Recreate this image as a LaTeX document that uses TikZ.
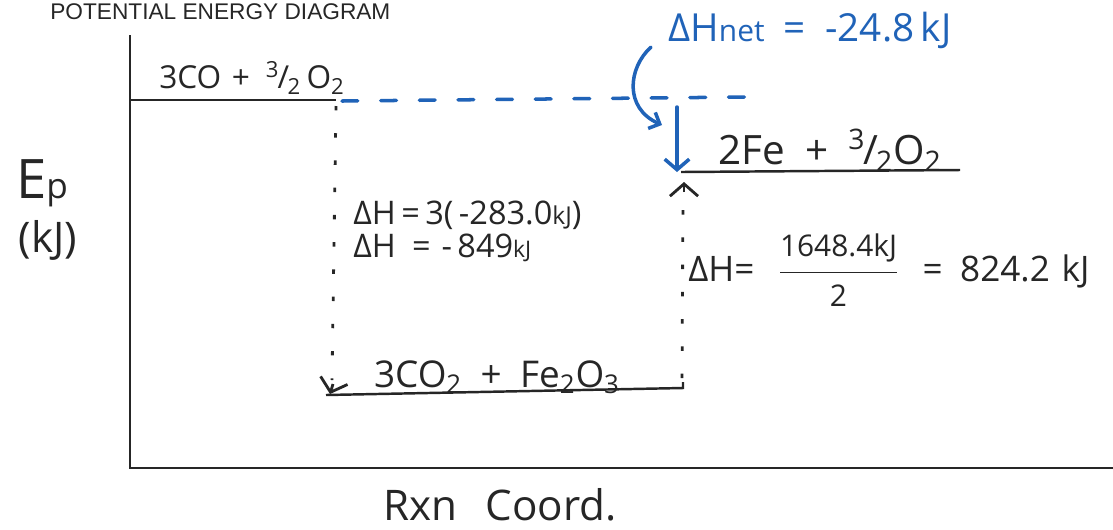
\documentclass[tikz,border=0pt]{standalone}
\usepackage{fontspec}
\setmainfont{Open Sans}
\newfontfamily\titlefont{Liberation Sans}
\usetikzlibrary{arrows.meta}
\definecolor{ink}{HTML}{262626}
\definecolor{bink}{HTML}{2063B8}
\newcommand{\tfrac}{\textsuperscript{3}\kern-0.05em/\kern-0.05em\textsubscript{2}}
\begin{document}
\begin{tikzpicture}[x=0.02cm,y=-0.02cm,
  axis/.style={draw=ink,line width=1.6pt},
  level/.style={draw=ink,line width=1.4pt},
  dotline/.style={draw=ink,line width=1.6pt,dash pattern=on 2.5pt off 13pt},
  bdash/.style={draw=bink,line width=2pt,dash pattern=on 9pt off 13pt,line cap=round},
  barrow/.style={draw=bink,line width=2pt,line cap=round},
  lbl/.style={text=ink,inner sep=0pt},
  blbl/.style={text=bink,inner sep=0pt},
  tip/.style={-{Straight Barb[length=7pt,width=16pt,line width=1.6pt]}}
]
\useasboundingbox (0,0) rectangle (1113,529);
% title
\node[lbl,anchor=base west,font=\titlefont\fontsize{12.9}{14}\selectfont] (title) at (50,19) {POTENTIAL ENERGY DIAGRAM};
% axes
\coordinate (ytop) at (130,35);
\coordinate (O) at (130,468);
\coordinate (xend) at (1113,468);
\draw[axis] (ytop) -- (O) -- (xend);
% levels
\coordinate (l1a) at (130,100);
\coordinate (l1b) at (336,100);
\coordinate (l2a) at (326,395);
\coordinate (l2b) at (683,388);
\coordinate (l2h) at (683,382);
\coordinate (l3a) at (681,172);
\coordinate (l3b) at (960,170);
\draw[level] (l1a) -- (l1b);
\draw[level] (l2a) -- (l2b) -- (l2h);
\draw[level] (l3a) -- (l3b);
% level labels
\node[lbl,font=\fontsize{18}{21}\selectfont] (r1) at (252,78) {3CO\,\,+\,\,\,\tfrac\,O\textsubscript{2}};
\node[lbl,font=\fontsize{23}{26}\selectfont] (r3) at (830,150) {2Fe\,\,\,+\,\,\,\tfrac O\textsubscript{2}};
\node[lbl,font=\fontsize{21}{24}\selectfont] (r2) at (497,377) {3CO\textsubscript{2}\,\,\,+\,\,\,Fe\textsubscript{2}O\textsubscript{3}};
% dotted connectors
\coordinate (d1s) at (336,106);
\coordinate (d1e) at (330,394);
\draw[dotline] (d1s) -- (332,380);
\draw[ink,line width=1.6pt,tip] (333,384) -- (d1e);
\coordinate (d2s) at (682,378);
\coordinate (d2e) at (684,182);
\draw[dotline] (d2s) -- (683,198);
\draw[ink,line width=1.6pt,tip] (684,192) -- (d2e);
% blue dashed net line
\coordinate (b1) at (342,101);
\coordinate (b2) at (748,97);
\draw[bdash] (b1) -- (b2);
% blue down arrow
\coordinate (ba1) at (677,107);
\coordinate (ba2) at (677,172);
\draw[barrow,-{Straight Barb[length=6pt,width=14pt,line width=2pt]}] (ba1) -- (ba2);
% blue curved arrow
\coordinate (c1) at (651,47);
\coordinate (c2) at (662,125);
\draw[barrow,-{Straight Barb[length=5pt,width=10pt,line width=2pt]}] (c1) .. controls (628,68) and (624,108) .. (c2);
% blue label
\node[blbl,anchor=west,font=\fontsize{22}{25}\selectfont] (net) at (668,30) {ΔH{\fontsize{17}{20}\selectfont net}\,\,\,=\,\,\,-24.8\,kJ};
% enthalpy texts
\node[lbl,anchor=west,font=\fontsize{18.5}{21}\selectfont] (dh1) at (353,215) {ΔH\,=\,3(\,-283.0{\fontsize{14}{16}\selectfont kJ})};
\node[lbl,anchor=west,font=\fontsize{18.5}{21}\selectfont] (dh2) at (353,248) {ΔH\,\,\,=\,\,-\,849{\fontsize{13}{15}\selectfont kJ}};
\node[lbl,anchor=west,font=\fontsize{20}{23}\selectfont] (dh3) at (688,270) {ΔH=\,\,\,\,$\displaystyle\frac{\mbox{\fontsize{17}{20}\selectfont 1648.4kJ}}{\mbox{\fontsize{17}{20}\selectfont 2}}$\,\,\,\,=\,\,\,824.2\,\,kJ};
% axis labels
\node[lbl,font=\fontsize{31}{34}\selectfont] (ep) at (42,183) {E{\fontsize{20}{23}\selectfont p}};
\node[lbl,font=\fontsize{24}{27}\selectfont] (kj) at (48,240) {(kJ)};
\node[lbl,font=\fontsize{24}{27}\selectfont] (rxn) at (500,505) {Rxn\,\,\,\,Coord.};
\end{tikzpicture}
\end{document}
